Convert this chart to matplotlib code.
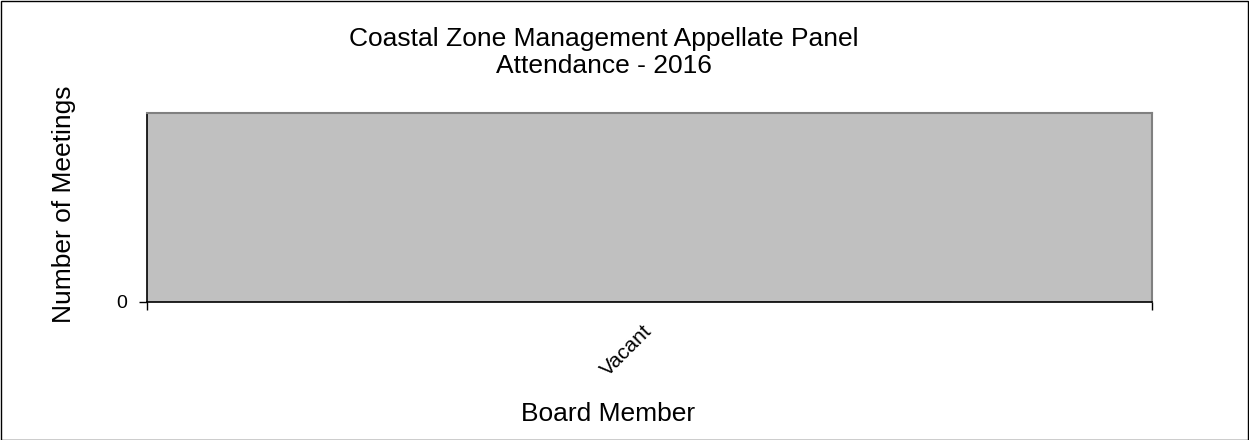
import matplotlib
matplotlib.use("Agg")
import matplotlib.pyplot as plt
from matplotlib.patches import Rectangle

# Chart data
members = ["Vacant"]
meetings = [0]

plt.rcParams['font.family'] = ['Liberation Sans', 'DejaVu Sans']

W, H = 1249, 440
fig = plt.figure(figsize=(W / 100, H / 100), dpi=100)

# Plot area placed in pixel terms of the reference
ax = fig.add_axes([147 / W, (H - 302) / H, 1005 / W, 189 / H])
ax.set_facecolor('#C0C0C0')

x = list(range(len(members)))
ax.bar(x, meetings, width=0.6, color='#9999FF', edgecolor='black')

ax.set_xlim(-0.5, len(members) - 0.5)
ax.set_ylim(0, 1)
ax.set_yticks([0])
ax.set_yticklabels(['0'], fontsize=14)
ax.tick_params(axis='y', length=6, width=1, pad=8, direction='out')

# category boundaries get the tick marks, labels sit at the centres
ax.set_xticks([i - 0.5 for i in range(len(members) + 1)])
ax.set_xticklabels([])
ax.tick_params(axis='x', which='major', length=6, width=1, direction='out')
ax.set_xticks(x, minor=True)
ax.set_xticklabels(members, minor=True, rotation=45, ha='right', va='center',
                   rotation_mode='anchor', fontsize=15)
ax.tick_params(axis='x', which='minor', length=0, pad=19)

for side in ['left', 'bottom']:
    ax.spines[side].set_color('black')
    ax.spines[side].set_linewidth(1.2)
for side in ['top', 'right']:
    ax.spines[side].set_color('#808080')
    ax.spines[side].set_linewidth(1.5)

fig.text(604 / W, 1 - 27 / H, 'Coastal Zone Management Appellate Panel\nAttendance - 2016',
         ha='center', va='top', fontsize=19, linespacing=1.17)
fig.text(64 / W, 1 - 204 / H, 'Number of Meetings', rotation=90,
         ha='center', va='center', fontsize=19)
fig.text(608 / W, 1 - 414 / H, 'Board Member', ha='center', va='center', fontsize=19)

# outer chart border
fig.patches.append(Rectangle((0.5 / W, 0.5 / H), 1 - 1.5 / W, 1 - 1.5 / H,
                             transform=fig.transFigure, fill=False,
                             edgecolor='black', linewidth=1))

fig.savefig('out.png', dpi=100)
